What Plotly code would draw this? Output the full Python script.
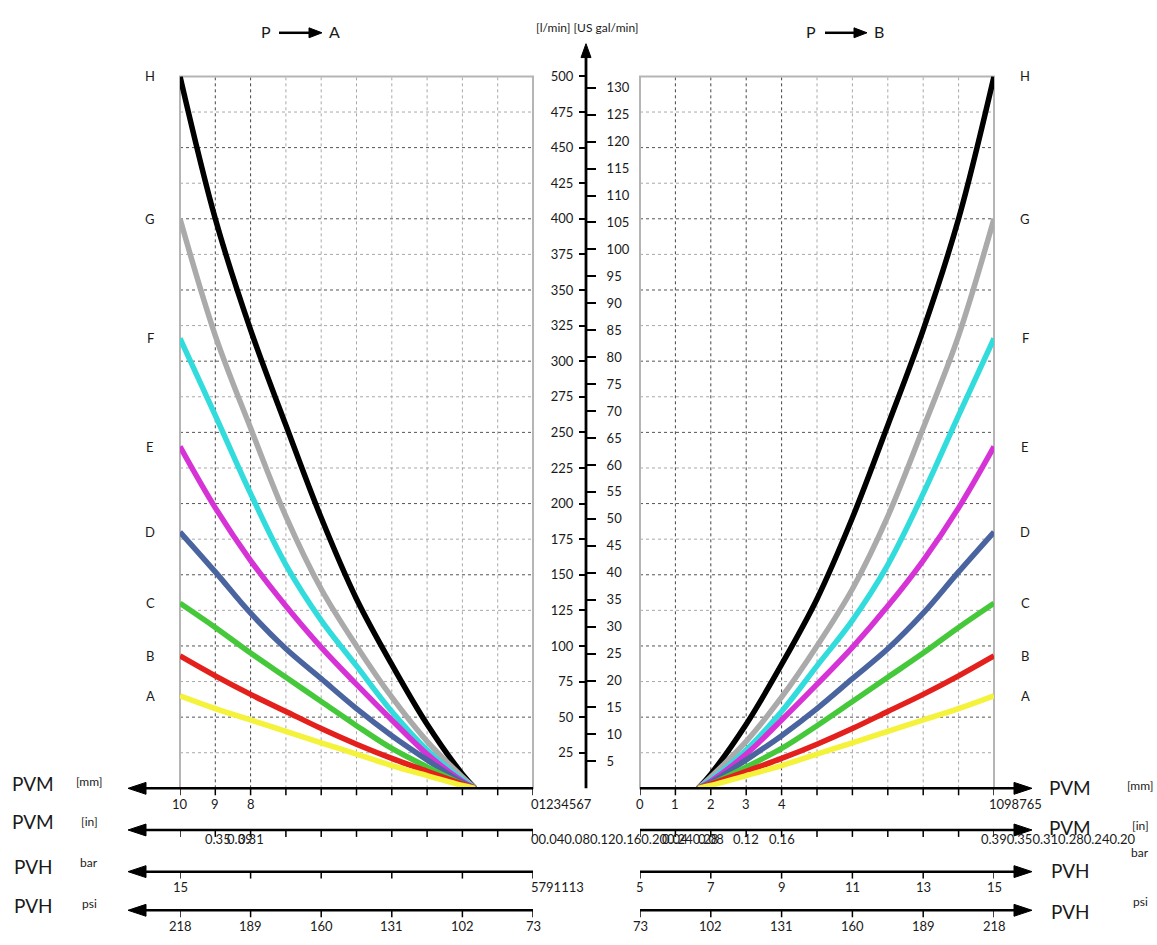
import plotly.graph_objects as go

W, H = 1157, 945
def PX(x): return x / W
def PY(y): return 1 - y / H

# ---------------- data ----------------
spool_mm = [1.64, 2, 3, 4, 5, 6, 7, 8, 9, 10]
flow_A = [0, 2, 9, 16, 24, 32, 40, 48, 56, 65]
flow_B = [0, 3, 12, 21, 31, 42, 54, 66, 79, 93]
flow_C = [0, 3, 15, 28, 44, 61, 78, 95, 113, 130]
flow_D = [0, 4, 20, 37, 56, 77, 98, 123, 152, 180]
flow_E = [0, 5, 24, 48, 73, 99, 128, 160, 197, 240]
flow_F = [0, 6, 27, 54, 86, 118, 157, 207, 262, 316]
flow_G = [0, 8, 33, 64, 100, 140, 191, 253, 318, 400]
flow_H = [0, 10, 45, 87, 133, 190, 255, 322, 400, 500]
curve_names = ["A", "B", "C", "D", "E", "F", "G", "H"]
curve_flows = [flow_A, flow_B, flow_C, flow_D, flow_E, flow_F, flow_G, flow_H]
curve_colors = ["#f4f23a", "#e4201c", "#45c93a", "#4a64a0", "#d633d6", "#33dcdc", "#aaaaaa", "#000000"]

lmin_ticks = list(range(25, 501, 25))
gal_ticks = list(range(5, 131, 5))
mm_ticks = list(range(0, 11))
mm_labels = [str(v) for v in mm_ticks]
in_labels = ["0", "0.04", "0.08", "0.12", "0.16", "0.20", "0.24", "0.28", "0.31", "0.35", "0.39"]
bar_ticks = [5, 7, 9, 11, 13, 15]
bar_labels = [str(v) for v in bar_ticks]
psi_ticks = [73, 102, 131, 160, 189, 218]
psi_labels = [str(v) for v in psi_ticks]

FONT = "Lato, 'Open Sans', sans-serif"
TXT = "#1a1a1a"

fig = go.Figure()

# curves, drawn H first so A ends on top
for name, flows, col in reversed(list(zip(curve_names, curve_flows, curve_colors))):
    for xa in ["x", "x2"]:
        fig.add_trace(go.Scatter(x=spool_mm, y=flows, xaxis=xa, yaxis="y", mode="lines",
                                 line=dict(color=col, width=5.5, shape="spline", smoothing=1.0),
                                 showlegend=False, hoverinfo="skip"))
# dummy traces so the central axes are drawn
fig.add_trace(go.Scatter(x=[None], y=[None], xaxis="x", yaxis="y2", showlegend=False))
fig.add_trace(go.Scatter(x=[None], y=[None], xaxis="x", yaxis="y3", showlegend=False))

shapes = []
ann = []

def line(x0, y0, x1, y1, color="black", width=2.5, dash=None, xref="paper", yref="paper", layer="above"):
    d = dict(type="line", x0=x0, y0=y0, x1=x1, y1=y1, xref=xref, yref=yref,
             line=dict(color=color, width=width), layer=layer)
    if dash:
        d["line"]["dash"] = dash
    shapes.append(d)

def tri(pts, color="black"):
    path = "M " + " L ".join(f"{PX(x)},{PY(y)}" for x, y in pts) + " Z"
    shapes.append(dict(type="path", path=path, xref="paper", yref="paper",
                       fillcolor=color, line=dict(color=color, width=1)))

def text(x, y, s, size=13, xanchor="center", yanchor="middle", xref="paper", yref="paper", xshift=0, color=TXT):
    ann.append(dict(x=x, y=y, text=s, xref=xref, yref=yref, showarrow=False,
                    xanchor=xanchor, yanchor=yanchor, xshift=xshift,
                    font=dict(family=FONT, size=size, color=color)))

# ---------------- grids ----------------
for xa, dark_mm in [("x", [8, 9]), ("x2", [1, 2, 3, 4])]:
    for v in lmin_ticks[:-1]:
        c = "#555555" if v % 50 == 0 else "#a8a8a8"
        line(0, v, 1, v, color=c, width=1, dash="dot", xref=xa + " domain", yref="y", layer="below")
    for m in mm_ticks[1:-1]:
        c = "#444444" if m in dark_mm else "#a8a8a8"
        line(m, 0, m, 1, color=c, width=1, dash="dot", xref=xa, yref="y domain", layer="below")
    # frame
    shapes.append(dict(type="rect", x0=0, x1=1, y0=0, y1=1, xref=xa + " domain", yref="y domain",
                       line=dict(color="#b5b5b5", width=2), layer="below"))

# ---------------- bottom scale rows ----------------
ROW_Y = {"mm": 787, "in": 829, "bar": 871, "psi": 910}
LAB_Y = {"mm": 803, "in": 838, "bar": 887, "psi": 926}

def row_line(side, key):
    y = ROW_Y[key]
    if side == "L":
        line(PX(533), PY(y), PX(142), PY(y), width=2.5)
        tri([(128, y), (146, y - 6), (146, y + 6)])
    else:
        line(PX(640), PY(y), PX(1018), PY(y), width=2.5)
        tri([(1032, y), (1014, y - 6), (1014, y + 6)])

def ticks(xref, vals, key):
    y = ROW_Y[key]
    for v in vals:
        line(v, PY(y), v, PY(y + 7), width=1.5, xref=xref)

def lab(xref, v, s, key, anchor="center", xshift=0):
    text(v, PY(LAB_Y[key]), s, size=13, xanchor=anchor, xref=xref, xshift=xshift)

for side, xm, xb, xp in [("L", "x", "x3", "x5"), ("R", "x2", "x4", "x6")]:
    for key in ["mm", "in", "bar", "psi"]:
        row_line(side, key)
    ticks(xm, mm_ticks, "mm")
    ticks(xm, mm_ticks, "in")
    ticks(xb, bar_ticks, "bar")
    ticks(xp, psi_ticks, "psi")
    for v, s in zip(psi_ticks, psi_labels):
        lab(xp, v, s, "psi")

# left mm row: 10, 9, 8 individually, rest piled at 0
for v, s in zip(mm_ticks, mm_labels):
    if v >= 8:
        lab("x", v, s, "mm")
lab("x", 0, "".join(mm_labels[:8]), "mm", anchor="left", xshift=-4)
# right mm row: 0..4 individually, 10..5 piled at 10
for v, s in zip(mm_ticks, mm_labels):
    if v <= 4:
        lab("x2", v, s, "mm")
lab("x2", 10, "".join(reversed(mm_labels[5:])), "mm", anchor="left", xshift=-7)
# inch rows (left labels overlap each other as in the original)
for v, s in zip(mm_ticks, in_labels):
    if v >= 8:
        lab("x", v, s, "in", xshift=60 if v == 10 else (3 if v == 9 else 0))
lab("x", 0, "".join(in_labels[:8]), "in", anchor="left", xshift=-4)
for v, s in zip(mm_ticks, in_labels):
    if 1 <= v <= 4:
        lab("x2", v, s, "in")
lab("x2", 10, "".join(reversed(in_labels[5:])), "in", anchor="left", xshift=-15)
# bar rows
lab("x3", bar_ticks[-1], bar_labels[-1], "bar")
lab("x3", bar_ticks[0], "".join(bar_labels[:-1]), "bar", anchor="left", xshift=-4)
for v, s in zip(bar_ticks, bar_labels):
    lab("x4", v, s, "bar")

# row names
for (nm, unit, y1, y2) in [("PVM", "[mm]", 782, 780), ("PVM", "[in]", 820, 820),
                           ("PVH", "bar", 866, 862), ("PVH", "psi", 905, 903)]:
    text(PX(33), PY(y1), nm, size=19)
    text(PX(89), PY(y2), unit, size=12)
for (nm, unit, y1, y2) in [("PVM", "[mm]", 786, 784), ("PVM", "[in]", 826, 824),
                           ("PVH", "bar", 870, 852), ("PVH", "psi", 911, 901)]:
    text(PX(1070), PY(y1), nm, size=19)
    text(PX(1140), PY(y2), unit, size=12)

# curve letters
for name, flows in zip(curve_names, curve_flows):
    text(PX(150), flows[-1], name, size=13, yref="y")
    text(PX(1025), flows[-1], name, size=13, yref="y")

# central flow axis arrow
line(PX(586), PY(787), PX(586), PY(48), width=2.8)
tri([(586, 36), (581, 50), (591, 50)])
text(PX(587), PY(20), "[l/min] [US gal/min]", size=12)

# titles P -> A, P -> B
for xp, xa0, xa1, xl, lt in [(266, 279, 322, 334, "A"), (811, 825, 867, 879, "B")]:
    text(PX(xp), PY(24), "P", size=16)
    text(PX(xl), PY(24), lt, size=16)
    line(PX(xa0), PY(25), PX(xa1 - 12), PY(25), width=2.5)
    tri([(xa1, 25), (xa1 - 13, 20), (xa1 - 13, 30)])

ydom = [PY(787), PY(69)]
fig.update_layout(
    width=W, height=H, margin=dict(l=0, r=0, t=0, b=0),
    paper_bgcolor="white", plot_bgcolor="rgba(0,0,0,0)",
    shapes=shapes, annotations=ann,
    xaxis=dict(domain=[PX(180), PX(533)], range=[10, 0], anchor="y", visible=False),
    xaxis2=dict(domain=[PX(640), PX(994)], range=[0, 10], anchor="y", visible=False),
    xaxis3=dict(domain=[PX(180), PX(533)], range=[15, 5], anchor="y", visible=False),
    xaxis4=dict(domain=[PX(640), PX(994)], range=[5, 15], anchor="y", visible=False),
    xaxis5=dict(domain=[PX(180), PX(533)], range=[218, 73], anchor="y", visible=False),
    xaxis6=dict(domain=[PX(640), PX(994)], range=[73, 218], anchor="y", visible=False),
    yaxis=dict(domain=ydom, range=[0, 500], anchor="x", visible=False),
    yaxis2=dict(overlaying="y", anchor="free", position=PX(586), side="left", range=[0, 500],
                tickvals=lmin_ticks, ticks="outside", ticklen=7, tickwidth=1.5, tickcolor="black",
                showline=False, showgrid=False, zeroline=False, ticklabelstandoff=3,
                tickfont=dict(family=FONT, size=13, color=TXT)),
    yaxis3=dict(overlaying="y", anchor="free", position=PX(586), side="right", range=[0, 500 / 3.785],
                tickvals=gal_ticks, ticks="outside", ticklen=9, tickwidth=1.5, tickcolor="black",
                showline=False, showgrid=False, zeroline=False, ticklabelstandoff=8,
                tickfont=dict(family=FONT, size=13, color=TXT)),
)
fig.write_html("out.html")
